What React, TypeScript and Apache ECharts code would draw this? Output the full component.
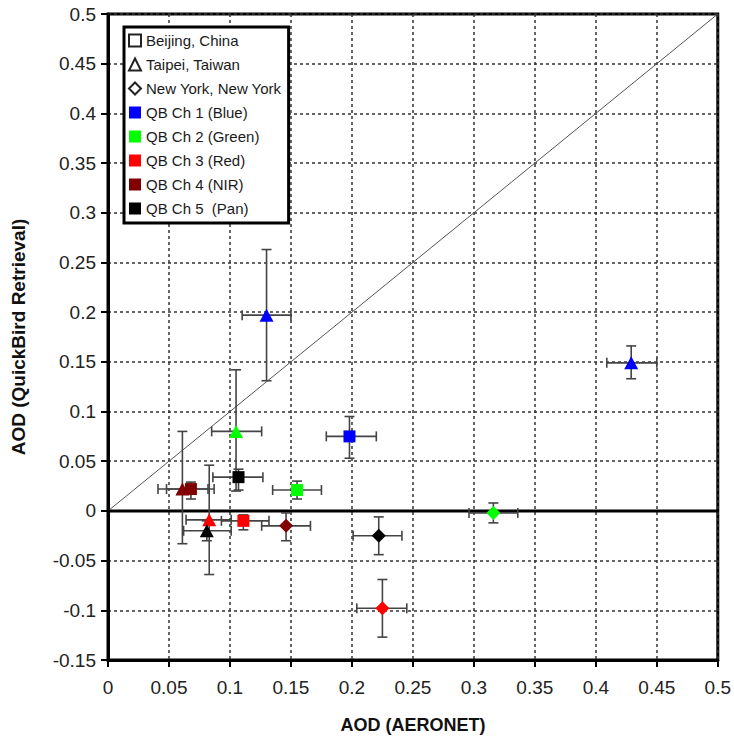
import React, { useEffect, useRef } from "react";
import * as echarts from "echarts";

const FONT = "'Liberation Sans', Arial, Helvetica, sans-serif";

const sites = ["Beijing, China", "Taipei, Taiwan", "New York, New York"];
const siteSymbols = ["rect", "triangle", "diamond"];
const channelNames = [
  "QB Ch 1 (Blue)",
  "QB Ch 2 (Green)",
  "QB Ch 3 (Red)",
  "QB Ch 4 (NIR)",
  "QB Ch 5  (Pan)",
];
const channelColors = ["#0000ff", "#00ff00", "#ff0000", "#800000", "#000000"];

// row: [siteIndex, AOD AERONET, AOD QuickBird, AERONET low, AERONET high, QB low, QB high]
const ch1Blue = [
  [0, 0.198, 0.075, 0.179, 0.22, 0.053, 0.095],
  [1, 0.13, 0.197, 0.11, 0.15, 0.131, 0.263],
  [1, 0.429, 0.149, 0.409, 0.45, 0.133, 0.166],
];
const ch2Green = [
  [0, 0.155, 0.021, 0.135, 0.175, 0.012, 0.03],
  [1, 0.105, 0.08, 0.085, 0.126, 0.02, 0.142],
  [2, 0.316, -0.002, 0.296, 0.336, -0.012, 0.008],
];
const ch3Red = [
  [0, 0.111, -0.01, 0.093, 0.132, -0.019, -0.004],
  [1, 0.083, -0.009, 0.064, 0.101, -0.064, 0.046],
  [2, 0.225, -0.098, 0.204, 0.245, -0.127, -0.069],
];
const ch4NIR = [
  [0, 0.068, 0.022, 0.048, 0.087, 0.012, 0.029],
  [1, 0.061, 0.022, 0.041, 0.082, -0.033, 0.08],
  [2, 0.146, -0.015, 0.126, 0.166, -0.03, -0.002],
];
const ch5Pan = [
  [0, 0.107, 0.034, 0.086, 0.127, 0.021, 0.042],
  [1, 0.081, -0.02, 0.062, 0.101, -0.03, -0.01],
  [2, 0.222, -0.025, 0.201, 0.241, -0.044, -0.006],
];
const channelData = [ch1Blue, ch2Green, ch3Red, ch4NIR, ch5Pan];

const xTicks = { min: 0, max: 0.5, interval: 0.05 };
const yTicks = { min: -0.15, max: 0.5, interval: 0.05 };
const oneToOne = [
  [0, 0],
  [0.5, 0.5],
];
const zeroLine = [
  [0, 0],
  [0.5, 0],
];

const symbolSizes: Record<string, any> = {
  rect: 12,
  triangle: [14, 13],
  diamond: 14,
};

const fmt = (v: number) => String(parseFloat(v.toFixed(2)));

export default function App() {
  const ref = useRef<HTMLDivElement>(null);

  useEffect(() => {
    document.body.style.margin = "0";
    if (!ref.current) return;
    const chart = echarts.init(ref.current, null, { renderer: "svg" });

    const allRows: number[][] = [];
    channelData.forEach((rows) => rows.forEach((r) => allRows.push(r.slice(1))));

    const errStyle = { stroke: "#444", lineWidth: 1.6, fill: "none" };
    const cap = 5;

    const series: any[] = [
      {
        type: "line",
        name: "1:1",
        data: oneToOne,
        showSymbol: false,
        lineStyle: { color: "#555", width: 1 },
        z: 3,
        silent: true,
      },
      {
        type: "line",
        name: "zero",
        data: zeroLine,
        showSymbol: false,
        lineStyle: { color: "#000", width: 3 },
        z: 4,
        silent: true,
      },
      {
        type: "custom",
        name: "errors",
        data: allRows,
        encode: { x: [0, 2, 3], y: [1, 4, 5] },
        z: 5,
        silent: true,
        renderItem: (params: any, api: any) => {
          const x = api.value(0);
          const y = api.value(1);
          const p = api.coord([x, y]);
          const pxl = api.coord([api.value(2), y]);
          const pxh = api.coord([api.value(3), y]);
          const pyl = api.coord([x, api.value(4)]);
          const pyh = api.coord([x, api.value(5)]);
          const ln = (x1: number, y1: number, x2: number, y2: number) => ({
            type: "line",
            shape: { x1, y1, x2, y2 },
            style: errStyle,
          });
          return {
            type: "group",
            children: [
              ln(pxl[0], p[1], pxh[0], p[1]),
              ln(pxl[0], p[1] - cap, pxl[0], p[1] + cap),
              ln(pxh[0], p[1] - cap, pxh[0], p[1] + cap),
              ln(p[0], pyl[1], p[0], pyh[1]),
              ln(p[0] - cap, pyl[1], p[0] + cap, pyl[1]),
              ln(p[0] - cap, pyh[1], p[0] + cap, pyh[1]),
            ],
          };
        },
      },
    ];

    sites.forEach((s) => {
      series.push({
        type: "scatter",
        name: s,
        data: [],
        itemStyle: { color: "#fff", borderColor: "#222", borderWidth: 1, opacity: 1 },
      });
    });

    channelData.forEach((rows, i) => {
      series.push({
        type: "scatter",
        name: channelNames[i],
        z: 6,
        itemStyle: { color: channelColors[i], opacity: 1 },
        data: rows.map((r) => {
          const sym = siteSymbols[r[0]];
          return {
            value: [r[1], r[2]],
            symbol: sym,
            symbolSize: symbolSizes[sym],
          };
        }),
      });
    });

    const option: any = {
      animation: false,
      textStyle: { fontFamily: FONT },
      grid: {
        left: 108,
        top: 14,
        right: 16,
        bottom: 82,
        show: true,
        borderColor: "#000",
        borderWidth: 3,
        backgroundColor: "#fff",
      },
      legend: {
        left: 124,
        top: 27,
        orient: "vertical",
        itemWidth: 12,
        itemHeight: 12,
        itemGap: 9,
        padding: [6, 7, 7, 4],
        borderColor: "#000",
        borderWidth: 3,
        borderRadius: 0,
        backgroundColor: "#fff",
        selectedMode: false,
        textStyle: { fontSize: 15, color: "#1a1a1a", fontFamily: FONT },
        data: [
          ...sites.map((s, i) => ({ name: s, icon: siteSymbols[i] })),
          ...channelNames.map((n) => ({ name: n, icon: "rect" })),
        ],
      },
      xAxis: {
        type: "value",
        min: xTicks.min,
        max: xTicks.max,
        interval: xTicks.interval,
        name: "AOD (AERONET)",
        nameLocation: "middle",
        nameGap: 56,
        nameTextStyle: { fontSize: 18, fontWeight: "bold", color: "#111", fontFamily: FONT },
        axisLine: { show: true, onZero: false, lineStyle: { color: "#000", width: 3 } },
        axisTick: { show: true, inside: false, length: 7, lineStyle: { color: "#000", width: 2 } },
        axisLabel: {
          margin: 18,
          fontSize: 19,
          color: "#222",
          fontFamily: FONT,
          formatter: fmt,
        },
        splitLine: { show: true, lineStyle: { color: "#333", width: 1.5, type: [3, 3] } },
      },
      yAxis: {
        type: "value",
        min: yTicks.min,
        max: yTicks.max,
        interval: yTicks.interval,
        name: "AOD (QuickBird Retrieval)",
        nameLocation: "middle",
        nameGap: 80,
        nameTextStyle: { fontSize: 19, fontWeight: "bold", color: "#111", fontFamily: FONT },
        axisLine: { show: true, onZero: false, lineStyle: { color: "#000", width: 3 } },
        axisTick: { show: true, inside: false, length: 7, lineStyle: { color: "#000", width: 2 } },
        axisLabel: {
          margin: 12,
          fontSize: 19,
          color: "#222",
          fontFamily: FONT,
          formatter: fmt,
        },
        splitLine: { show: true, lineStyle: { color: "#333", width: 1.5, type: [3, 3] } },
      },
      series,
    };

    chart.setOption(option);
    return () => chart.dispose();
  }, []);

  return <div ref={ref} style={{ width: 734, height: 742 }} />;
}
